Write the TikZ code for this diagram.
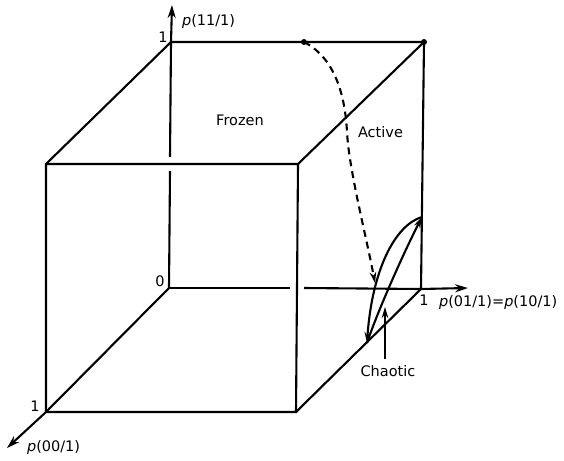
\documentclass[tikz,border=0pt]{standalone}
\usepackage{fontspec}
\setmainfont{DejaVu Sans}
\usetikzlibrary{arrows.meta}
\begin{document}
\begin{tikzpicture}[x=1pt,y=-1pt, line width=2.1pt,
  axisarrow/.style={-{Stealth[length=13pt,width=8pt]}},
  looparrow/.style={-{Stealth[length=11pt,width=6.5pt]}},
  lbl/.style={font=\fontsize{14.5}{17}\selectfont, inner sep=0pt},
  dashedcurve/.style={dash pattern=on 7pt off 5pt},
]
\useasboundingbox (0,0) rectangle (564,460);
% cube corners
\coordinate (O) at (169,288);
\coordinate (BTL) at (171,42);
\coordinate (BTR) at (424,42);
\coordinate (BBR) at (421,289);
\coordinate (FTL) at (46,164);
\coordinate (FTR) at (298,164);
\coordinate (FBL) at (46,412);
\coordinate (FBR) at (296,412);
% axis tips
\coordinate (ZT) at (172,5);
\coordinate (XT) at (468,288);
\coordinate (YT) at (7,448);
% hidden-line gaps
\coordinate (gz1) at (170,171);
\coordinate (gz2) at (170,157);
\coordinate (gx1) at (290,288);
\coordinate (gx2) at (304,288);
% chaotic cycle points
\coordinate (C1) at (367,343);
\coordinate (C2) at (422,217);
\coordinate (D0) at (304,42);
\coordinate (D1) at (347,132);
\coordinate (D2) at (375,283);
\coordinate (ctip) at (385,307);

% back axes
\draw (O) -- (gz1);
\draw[axisarrow] (gz2) -- (BTL) -- (ZT);
\draw (O) -- (gx1);
\draw[axisarrow] (gx2) -- (BBR) -- (XT);
\draw[axisarrow] (O) -- (FBL) -- (YT);
% cube edges
\draw (BTL) -- (BTR) -- (BBR);
\draw (BTL) -- (FTL);
\draw (BTR) -- (FTR);
\draw (FTL) -- (FTR) -- (FBR) -- (FBL) -- cycle;
\draw (FBR) -- (BBR);
% dots
\fill (D0) circle (3pt);
\fill (BTR) circle (3pt);
% dashed trajectory
\draw[dashedcurve, looparrow] (D0) .. controls (335,58) and (345,95) .. (D1) .. controls (349,170) and (366,235) .. (D2);
% chaotic cycle
\draw[looparrow] (C2) .. controls (395,225) and (372,270) .. (C1);
\draw[looparrow] (C1) .. controls (378,310) and (405,250) .. (C2);

% labels
\node[lbl, anchor=west] (pz) at (181,22) {{\itshape p}(11/1)};
\node[lbl] (one1) at (163,37) {1};
\node[lbl] (zero) at (160,281) {0};
\node[lbl] (one2) at (35,406) {1};
\node[lbl, anchor=west] (py) at (26,447) {{\itshape p}(00/1)};
\node[lbl] (one3) at (424,300) {1};
\node[lbl, anchor=west] (px) at (438,303) {{\itshape p}(01/1)={\itshape p}(10/1)};
\node[lbl] (frozen) at (240,120) {Frozen};
\node[lbl, anchor=west] (active) at (357,132) {Active};
\node[lbl] (chaos) at (388,371) {Chaotic};
\draw[looparrow] (chaos.north -| ctip) ++(0,-5) -- (ctip);
\end{tikzpicture}
\end{document}
